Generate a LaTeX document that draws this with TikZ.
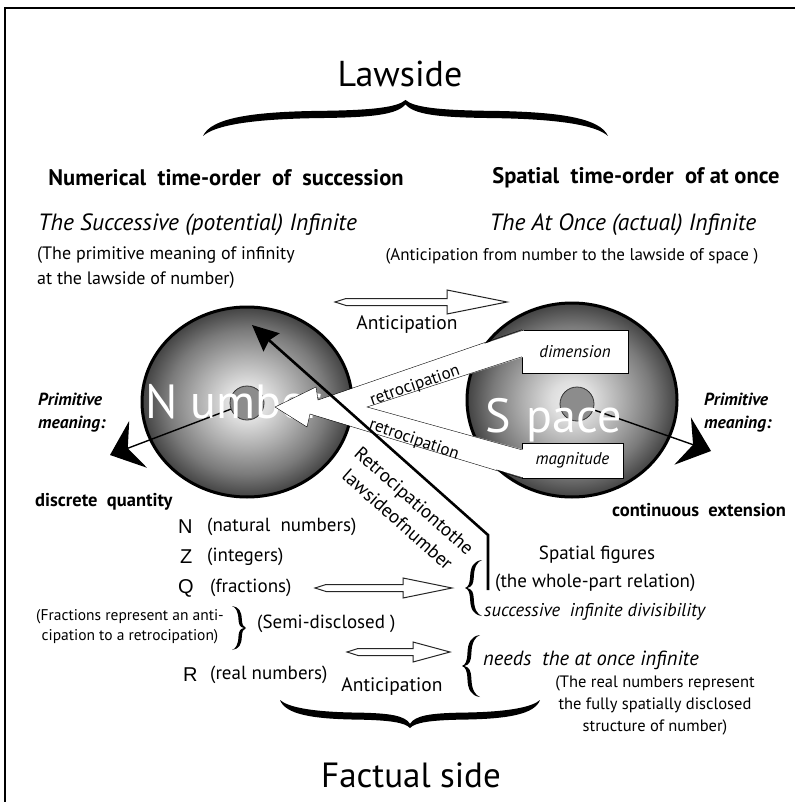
\documentclass[tikz,border=0pt]{standalone}
\usepackage{fontspec}
\setmainfont{PT Sans}
\newfontfamily\setfont{Liberation Sans}
\usetikzlibrary{arrows.meta,calc}

% light centre, dark rim
\pgfdeclareradialshading{ballgray}{\pgfpoint{0bp}{0bp}}{%
  color(0bp)=(black!6); color(5bp)=(black!13); color(12bp)=(black!32);
  color(19bp)=(black!52); color(25bp)=(black!74); color(50bp)=(black!74)}

% tapered curly brace: ends at (0,0) and (1,0), tip at (0.5,1)
\newcommand{\curlybrace}[1]{%
  (0,0) .. controls (0.02,0.5) and (0.12,0.68) .. (0.3,0.7)
  .. controls (0.42,0.72) and (0.48,0.8) .. (0.5,1)
  .. controls (0.52,0.8) and (0.58,0.72) .. (0.7,0.7)
  .. controls (0.88,0.68) and (0.98,0.5) .. (1,0)
  .. controls (0.97,{0.5-#1}) and (0.88,{0.68-#1}) .. (0.7,{0.7-#1})
  .. controls (0.58,{0.72-#1}) and (0.52,{0.8-#1}) .. (0.5,{1-0.6*#1})
  .. controls (0.48,{0.8-#1}) and (0.42,{0.72-#1}) .. (0.3,{0.7-#1})
  .. controls (0.12,{0.68-#1}) and (0.03,{0.5-#1}) .. (0,0) -- cycle}

% hollow arrow: tail, tip, head length, head half height
\newcommand{\hollowarrow}[4]{%
  \draw[hollow] (#1) -- ($(#1)+(11,-3.5)$) -- ($(#2)+(-#3,-3.5)$)
    -- ($(#2)+(-#3,-#4)$) -- (#2) -- ($(#2)+(-#3,#4)$)
    -- ($(#2)+(-#3,3.5)$) -- ($(#1)+(11,3.5)$) -- cycle;}

\tikzset{
  big/.style={font=\fontsize{36}{40}\selectfont},
  head/.style={font=\bfseries\fontsize{22.5}{26}\selectfont},
  infin/.style={font=\itshape\fontsize{23.5}{26}\selectfont},
  note/.style={font=\fontsize{18}{25}\selectfont, align=left},
  antinote/.style={font=\fontsize{17}{20}\selectfont},
  smallnote/.style={font=\fontsize{16.5}{22}\selectfont, align=center},
  antilabel/.style={font=\fontsize{19.5}{22}\selectfont},
  prim/.style={font=\bfseries\itshape\fontsize{17.5}{23}\selectfont, align=left},
  quality/.style={font=\bfseries\fontsize{18.5}{20}\selectfont},
  setletter/.style={font=\setfont\fontsize{20}{22}\selectfont},
  setnote/.style={font=\fontsize{19}{20}\selectfont},
  figtext/.style={font=\fontsize{19}{22}\selectfont},
  divis/.style={font=\itshape\fontsize{18.5}{22}\selectfont},
  needs/.style={font=\itshape\fontsize{20.5}{24}\selectfont},
  ballname/.style={text=white, font=\fontsize{48}{50}\selectfont},
  qualbox/.style={draw, thin, fill=white, font=\itshape\fontsize{17}{20}\selectfont},
  retro/.style={font=\fontsize{17}{20}\selectfont},
  lawtext/.style={font=\fontsize{19}{25}\selectfont, align=center},
  hub/.style={circle, draw=black!80, fill=black!45, line width=0.8pt, minimum size=34pt},
  primarrow/.style={line width=1.4pt, -{Stealth[length=30pt, width=50pt, inset=11pt]}},
  lawarrow/.style={line width=2.6pt, -{Stealth[length=26pt, width=24pt, inset=3pt]}},
  hollow/.style={draw=black!85, line width=1pt, fill=white, line join=miter},
}

\begin{document}
\begin{tikzpicture}[x=1pt, y=-1pt, inner sep=0pt]
  \useasboundingbox (0,0) rectangle (795,802);
  \draw[line width=2.5pt] (5,802) -- (5,8) -- (795,8);

  % lawside
  \node[big] (lawside) at (400,74) {Lawside};
  \fill[shift={(203,136)}, x={(405pt,0pt)}, y={(0pt,36pt)}] \curlybrace{0.2};
  \node[head] (numorder) at (226,178) {Numerical\ \ time-order\ \ of\ \ succession};
  \node[head] (spaceorder) at (636,178) {Spatial\ \ time-order\ \ of\ at once};
  \node[infin, anchor=west] (succinf) at (38,225) {The Successive (potential) Infinite};
  \node[note, anchor=west] (primnote) at (37,268) {(The primitive meaning of infinity\\at the lawside of number)};
  \node[infin] (onceinf) at (623,225) {The At Once (actual) Infinite};
  \node[antinote] (antinote) at (572,256) {(Anticipation from number to the lawside of space )};

  \coordinate (antitail) at (335,302);
  \coordinate (antitip) at (507,302);
  \hollowarrow{antitail}{antitip}{60}{12}
  \node[antilabel] (antitop) at (407,325) {Anticipation};

  % the two balls
  \coordinate (numc) at (247,402);
  \coordinate (spc) at (572,400);
  \shadedraw[shading=ballgray, line width=3pt] (numc) ellipse [x radius=105pt, y radius=95pt];
  \shadedraw[shading=ballgray, line width=3pt] (spc) ellipse [x radius=105pt, y radius=97pt];
  \node[hub] (numhub) at (247,403) {};
  \node[hub] (sphub) at (577,404) {};
  \coordinate (numprim) at (110,455);
  \coordinate (spprim) at (711,451);
  \draw[primarrow] (numhub) -- (numprim);
  \draw[primarrow] (sphub) -- (spprim);
  \node[ballname, anchor=base west] (numword) at (145,418) {N umber};
  \node[ballname, anchor=base west] (spword) at (485,432) {S\hspace{16pt}pace};

  % retrocipation from space to number
  \node[qualbox, minimum width=106pt, minimum height=43pt] (dim) at (575,351.5) {dimension};
  \node[qualbox, minimum width=101pt, minimum height=35pt] (mag) at (572.5,460.5) {magnitude};
  \fill[white] ($(dim.north west)+(2,0.6)$) -- (318,400) -- (316,387) -- (275,407)
    -- (307,427) -- (310,414) -- ($(mag.south west)+(2,-0.6)$)
    -- ($(mag.north west)+(2,7)$) -- (367,407) -- ($(dim.north west)+(2,27)$) -- cycle;
  \draw[thin] (dim.north west) -- (318,400) -- (316,387) -- (275,407)
    -- (307,427) -- (310,414) -- (mag.south west);
  \draw[thin] ($(dim.north west)+(0,27)$) -- (367,407) -- ($(mag.north west)+(0,7)$);
  \node[retro, rotate=19] (retroup) at (415,386) {retrocipation};
  \node[retro, rotate=-19] (retrolow) at (414,440) {retrocipation};

  % retrocipation to the lawside of number
  \coordinate (lawfoot) at (488,590);
  \coordinate (lawbend) at (488,535);
  \coordinate (lawtip) at (252,325);
  \draw[lawarrow] (lawfoot) -- (lawbend) -- (lawtip);
  \node[lawtext, rotate=-41.5] (lawlabel) at (406,510) {Retrocipationtothe\\lawsideofnumber};

  \node[prim, anchor=west] (primleft) at (38,413) {Primitive\\meaning:};
  \node[prim, anchor=west] (primright) at (704,413) {Primitive\\meaning:};
  \node[quality, anchor=west] (discrete) at (35,502) {discrete\ \ quantity};
  \node[quality, anchor=west] (contin) at (612,510) {continuous\ \ extension};

  % number systems
  \node[setletter, anchor=west] (setN) at (178,527) {N};
  \node[setnote, anchor=west] (natnote) at (207,527) {(natural\ \ numbers)};
  \node[setletter, anchor=west] (setZ) at (180,557) {Z};
  \node[setnote, anchor=west] (intnote) at (207,557) {(integers)};
  \node[setletter, anchor=west] (setQ) at (178,588) {Q};
  \node[setnote, anchor=west] (fracname) at (210,588) {(fractions)};
  \node[smallnote, font=\fontsize{15.5}{20}\selectfont] (fracnote) at (130,627) {(Fractions represent an anti-\\cipation to a retrocipation)};
  \fill[shift={(232,606)}, x={(0pt,-44pt)}, y={(14pt,0pt)}] \curlybrace{0.24};
  \node[setnote, anchor=west] (semi) at (257,624) {(Semi-disclosed )};
  \node[setletter, anchor=west] (setR) at (183,675) {R};
  \node[setnote, anchor=west] (realname) at (210,675) {(real numbers)};

  \coordinate (qtail) at (315,588);
  \coordinate (qtip) at (452,588);
  \hollowarrow{qtail}{qtip}{49}{10}
  \coordinate (rtail) at (347,652);
  \coordinate (rtip) at (450,652);
  \hollowarrow{rtail}{rtip}{37}{10}
  \node[antilabel] (antibottom) at (392,687) {Anticipation};

  % spatial side
  \node[figtext] (figures) at (597,555) {Spatial figures};
  \fill[shift={(482,560)}, x={(0pt,-56pt)}, y={(-17pt,0pt)}] \curlybrace{0.22};
  \node[figtext, anchor=west] (wholepart) at (495,583) {(the whole-part relation)};
  \node[divis, anchor=west] (divisib) at (484,612) {successive\ \ infinite divisibility};
  \fill[shift={(480,635)}, x={(0pt,-62pt)}, y={(-18pt,0pt)}] \curlybrace{0.22};
  \node[needs, anchor=west] (needs) at (483,660) {needs\ \ the at once infinite};
  \node[smallnote] (realnote) at (655,705) {(The real numbers represent\\the fully spatially disclosed\\structure of number)};

  % factual side
  \fill[shift={(280,700)}, x={(260pt,0pt)}, y={(0pt,-28pt)}] \curlybrace{0.25};
  \node[big, font=\fontsize{35}{40}\selectfont] (factual) at (411,775) {Factual side};
\end{tikzpicture}
\end{document}
